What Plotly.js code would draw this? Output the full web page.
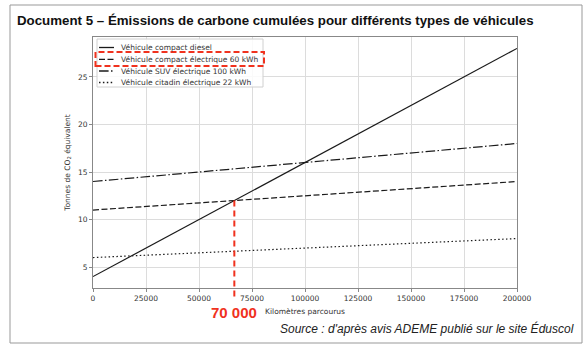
<!DOCTYPE html>
<html><head><meta charset="utf-8">
<script src="https://cdn.plot.ly/plotly-3.0.1.min.js"></script>
<style>html,body{margin:0;padding:0;background:#fff}#chart{width:587px;height:348px}</style>
</head><body><div id="chart"></div>
<script>
// Data
const seriesNames = ["Véhicule compact diesel","Véhicule compact électrique 60 kWh","Véhicule SUV électrique 100 kWh","Véhicule citadin électrique 22 kWh"];
const kmValues = [0, 200000];
const dieselValues = [4, 28];
const compactElecValues = [11, 14];
const suvElecValues = [14, 18];
const cityElecValues = [6, 8];
const xTickValues = [0,25000,50000,75000,100000,125000,150000,175000,200000];
const yTickValues = [5,10,15,20,25];
const markerLabel = "70 000";

const W=587,H=348, L=93, R=70, T=37, B=60;
const pw=W-L-R, ph=H-T-B;
const px=v=>(v-L)/pw, py=v=>(H-B-v)/ph;
const yRange=[2.8,29.2], xRange=[0,200000];

const dashes=["solid","6px,2.5px","9.6px,2.4px,1.5px,2.4px","1.5px,2.4px"];
const allY=[dieselValues,compactElecValues,suvElecValues,cityElecValues];
const traces=allY.map((ys,i)=>({x:kmValues,y:ys,type:'scatter',mode:'lines',name:seriesNames[i],
  line:{color:'#1a1a1a',width:1.2,dash:dashes[i]},hoverinfo:'skip'}));

// intersection diesel / compact electric
const s1=(dieselValues[1]-dieselValues[0])/(kmValues[1]-kmValues[0]);
const s2=(compactElecValues[1]-compactElecValues[0])/(kmValues[1]-kmValues[0]);
const xi=(compactElecValues[0]-dieselValues[0])/(s1-s2);
const yi=dieselValues[0]+s1*xi;
const yiPaper=(yi-yRange[0])/(yRange[1]-yRange[0]);

const shapes=[
  {type:'rect',xref:'paper',yref:'paper',x0:px(10),x1:px(582),y0:py(343),y1:py(5),line:{color:'#999',width:1},fillcolor:'rgba(0,0,0,0)'},
  {type:'line',xref:'x',yref:'paper',x0:xi,x1:xi,y0:yiPaper,y1:py(300),line:{color:'#f0321e',width:2,dash:'6px,4px'}},
  // legend box
  {type:'rect',xref:'paper',yref:'paper',x0:px(97),x1:px(263),y0:py(87),y1:py(39),line:{color:'#d0d0d0',width:1},fillcolor:'rgba(255,255,255,0.85)'},
  {type:'rect',xref:'paper',yref:'paper',x0:px(95.5),x1:px(264),y0:py(66),y1:py(52),line:{color:'#f0321e',width:2,dash:'6px,3px'},fillcolor:'rgba(0,0,0,0)'}
];
const rowY=[47.5,59.3,71,82.5];
const annotations=[];
seriesNames.forEach((n,i)=>{
  shapes.push({type:'line',xref:'paper',yref:'paper',x0:px(99),x1:px(114),y0:py(rowY[i]),y1:py(rowY[i]),line:{color:'#1a1a1a',width:1.3,dash:dashes[i]}});
  annotations.push({xref:'paper',yref:'paper',x:px(119),y:py(rowY[i]),xanchor:'left',yanchor:'middle',showarrow:false,text:n,font:{family:'DejaVu Sans',size:7.5,color:'#333'}});
});
annotations.push({xref:'x',yref:'paper',x:xi,y:py(312),xanchor:'center',yanchor:'middle',showarrow:false,text:'<b>'+markerLabel+'</b>',font:{family:'Liberation Sans, Arial',size:15,color:'#f0321e'}});
annotations.push({xref:'paper',yref:'paper',x:px(576),y:py(328),xanchor:'right',yanchor:'middle',showarrow:false,text:"<i>Source : d'après avis ADEME publié sur le site Éduscol</i>",font:{family:'Liberation Sans, Arial',size:12,color:'#222'}});

const layout={width:W,height:H,margin:{l:L,r:R,t:T,b:B},paper_bgcolor:'#fff',plot_bgcolor:'#fff',showlegend:false,
  title:{text:'<b>Document 5 – Émissions de carbone cumulées pour différents types de véhicules</b>',xref:'container',yref:'container',x:17/W,xanchor:'left',y:1-20/H,yanchor:'middle',font:{family:'Liberation Sans, Arial',size:13.3,color:'#111'}},
  xaxis:{range:xRange,tickvals:xTickValues,ticktext:xTickValues.map(String),showgrid:true,gridcolor:'#dcdcdc',gridwidth:1,zeroline:false,
    showline:true,mirror:true,linecolor:'#888',linewidth:1,ticks:'outside',ticklen:3,tickcolor:'#888',
    tickfont:{family:'DejaVu Sans',size:7.5,color:'#333'},
    title:{text:'Kilomètres parcourus',standoff:6,font:{family:'DejaVu Sans',size:7.5,color:'#333'}}},
  yaxis:{range:yRange,tickvals:yTickValues,showgrid:true,gridcolor:'#dcdcdc',gridwidth:1,zeroline:false,
    showline:true,mirror:true,linecolor:'#888',linewidth:1,ticks:'outside',ticklen:3,tickcolor:'#888',
    tickfont:{family:'DejaVu Sans',size:7.5,color:'#333'},
    title:{text:'Tonnes de CO<sub>2</sub> équivalent',standoff:6,font:{family:'DejaVu Sans',size:7.5,color:'#333'}}},
  shapes:shapes,annotations:annotations};
Plotly.newPlot('chart',traces,layout,{staticPlot:true});
</script></body></html>
